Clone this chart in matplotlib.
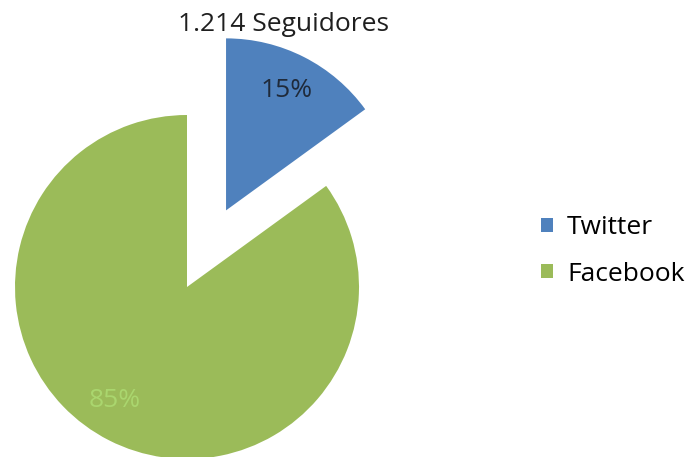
import numpy as np
import matplotlib.pyplot as plt

labels = ['Twitter', 'Facebook']
shares = [15, 85]
colors = ['#4F81BD', '#9BBB59']
explode = [0.5, 0.0]
title = '1.214 Seguidores'

plt.rcParams['font.family'] = ['Open Sans', 'DejaVu Sans']

fig = plt.figure(figsize=(6.92, 4.57), dpi=100)
ax = fig.add_axes([0, 0, 1, 1])

wedges, texts, autotexts = ax.pie(
    shares, labels=None, colors=colors, explode=explode,
    startangle=90, counterclock=False, autopct='%1.0f%%',
    pctdistance=0.78, textprops={'fontsize': 19},
    wedgeprops={'linewidth': 0})
autotexts[0].set_color('#1F2A3A')
autotexts[1].set_color('#AAD66E')
# the Facebook label sits a little left of the wedge middle in the original
a = np.deg2rad(-122.5)
autotexts[1].set_position((0.78 * np.cos(a), 0.78 * np.sin(a)))

# pie centre at ~(187, 287) px, radius ~172 px
ax.set_xlim(-187 / 172, (692 - 187) / 172)
ax.set_ylim(-(457 - 287) / 172, 287 / 172)
ax.set_aspect('auto')
ax.axis('off')

ax.text((284 - 187) / 172, (287 - 25) / 172, title, fontsize=19,
        ha='center', va='center', color='#1F1F1F')

fig.legend(wedges, labels, loc='center left',
           bbox_to_anchor=(517 / 692, (457 - 251) / 457),
           frameon=False, fontsize=19, handlelength=0.45, handleheight=0.45,
           handletextpad=0.55, labelspacing=0.8)

plt.savefig('out.png', dpi=100)
